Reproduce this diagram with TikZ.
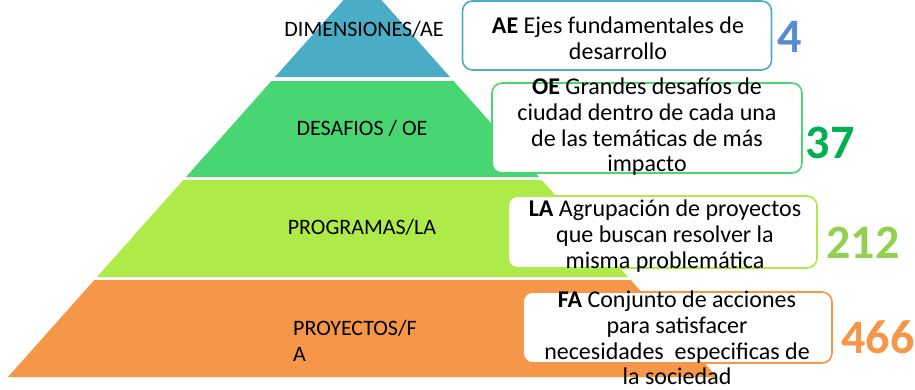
\documentclass[tikz,border=0pt]{standalone}
\usepackage{fontspec}
\setmainfont{Carlito}
\definecolor{tblue}{RGB}{75,172,198}
\definecolor{tgreen}{RGB}{72,214,115}
\definecolor{tlime}{RGB}{174,234,72}
\definecolor{torange}{RGB}{245,150,72}
\definecolor{nblue}{RGB}{86,140,210}
\definecolor{ngreen}{RGB}{0,176,80}
\definecolor{nlime}{RGB}{146,208,80}
\definecolor{norange}{RGB}{247,150,70}
\tikzset{
  lbl/.style={font=\fontsize{22}{26}\selectfont, inner sep=0pt},
  infobox/.style={draw, line width=1.6pt, rounded corners=10pt, fill=white},
  infotext/.style={font=\fontsize{24}{25.7}\selectfont, align=center, inner sep=0pt},
  count/.style={font=\fontsize{48}{48}\selectfont\bfseries, inner sep=0pt}
}
\begin{document}
\begin{tikzpicture}[x=1pt,y=-1pt]
\useasboundingbox (0,0) rectangle (915,389);
% pyramid tiers
\fill[tblue]   (343.5,0) -- (381.5,0) -- (450,77) -- (275,77) -- cycle;
\fill[tgreen]  (271.4,81) -- (453.6,81) -- (539,177) -- (186,177) -- cycle;
\fill[tlime]   (183.3,180) -- (541.7,180) -- (628,277) -- (97,277) -- cycle;
\fill[torange] (94.3,280) -- (630.7,280) -- (717,377) -- (8,377) -- cycle;
% tier labels
\node[lbl] (tAE) at (364,29) {DIMENSIONES/AE};
\node[lbl] (tOE) at (362,128) {DESAFIOS / OE};
\node[lbl] (tLA) at (362,227) {PROGRAMAS/LA};
\node[lbl, align=left, anchor=west] (tFA) at (293,341) {PROYECTOS/F\\A};
% boxes
\node[infobox, draw=tblue, minimum width=309pt, minimum height=69pt] (bAE) at (617,35.5) {};
\node[infobox, draw=tgreen, minimum width=310pt, minimum height=90pt] (bOE) at (647,128) {};
\node[infobox, draw=tlime, minimum width=309pt, minimum height=72pt] (bLA) at (662.5,232) {};
\node[infobox, draw=torange, minimum width=309pt, minimum height=71pt] (bFA) at (677.5,327.5) {};
% box texts
\node[infotext] (xAE) at (618,38) {\textbf{AE} Ejes fundamentales de\\desarrollo};
\node[infotext] (xOE) at (647,127) {\textbf{OE} Grandes desafíos de\\ciudad dentro de cada una\\de las temáticas de más\\impacto};
\node[infotext] (xLA) at (665,236) {\textbf{LA} Agrupación de proyectos\\que buscan resolver la\\misma problemática};
\node[infotext] (xFA) at (677,338) {\textbf{FA} Conjunto de acciones\\para satisfacer\\necesidades\ \ especificas de\\la sociedad};
% counts
\node[count, text=nblue] (nAE) at (790,37) {4};
\node[count, text=ngreen] (nOE) at (830,143) {37};
\node[count, text=nlime] (nLA) at (863,243) {212};
\node[count, text=norange] (nFA) at (878,337) {466};
\end{tikzpicture}
\end{document}
